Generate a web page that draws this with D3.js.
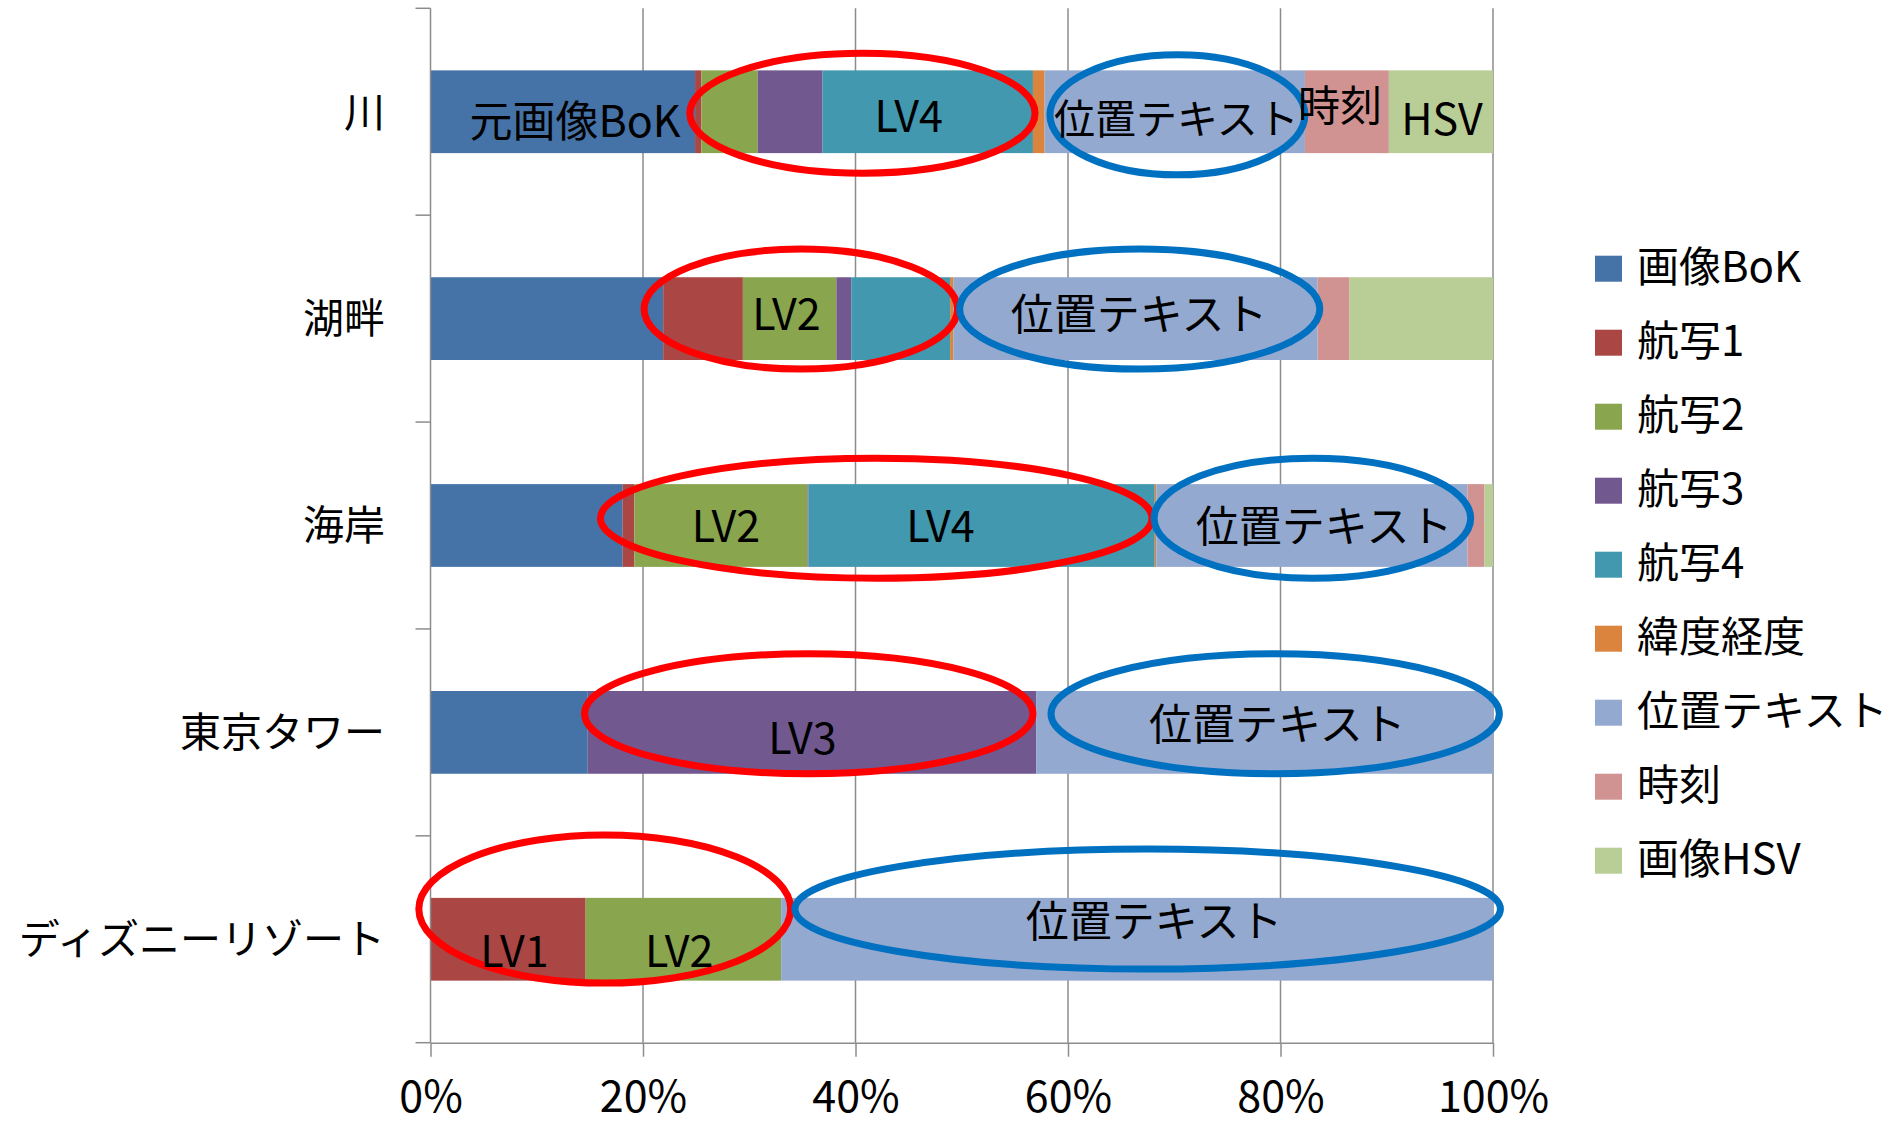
<!DOCTYPE html>
<html>
<head>
<meta charset="utf-8">
<script src="https://cdn.jsdelivr.net/npm/d3@7"></script>
<style>
  body { margin: 0; background: #fff; }
</style>
</head>
<body>
<script>
// categories, top to bottom
var categories = ['川', '湖畔', '海岸', '東京タワー', 'ディズニーリゾート']

// series names (legend order) and colours
var seriesNames = ['画像BoK', '航写1', '航写2', '航写3', '航写4', '緯度経度', '位置テキスト', '時刻', '画像HSV']
var seriesColors = ['#4572A7', '#AA4643', '#89A54E', '#71588F', '#4198AF', '#DB843D', '#93A9CF', '#D19392', '#B9CD96']

// share (%) of each series per category
var bok   = [24.9, 21.9, 18.1, 14.8, 0]
var kou1  = [0.6, 7.5, 1.1, 0, 14.6]
var kou2  = [5.3, 8.8, 16.3, 0, 18.4]
var kou3  = [6.1, 1.4, 0.1, 42.2, 0]
var kou4  = [19.8, 9.3, 32.6, 0, 0]
var latlon = [1.1, 0.3, 0.15, 0, 0]
var postext = [24.5, 34.3, 29.3, 43.0, 67.0]
var jikoku = [7.9, 3.0, 1.6, 0, 0]
var hsv   = [9.8, 13.5, 0.8, 0, 0]
var seriesValues = [bok, kou1, kou2, kou3, kou4, latlon, postext, jikoku, hsv]

var xTicks = [0, 0.2, 0.4, 0.6, 0.8, 1]

// annotations: in-bar labels [category, x share, y offset in bands, text, font px]
var barLabels = [
  ['川', 0.136, 0.047, '元画像BoK', 43],
  ['川', 0.450, 0.024, 'LV4', 43],
  ['川', 0.702, 0.035, '位置テキスト', 41],
  ['川', 0.856, -0.028, '時刻', 42],
  ['川', 0.952, 0.040, 'HSV', 43],
  ['湖畔', 0.335, -0.022, 'LV2', 43],
  ['湖畔', 0.667, -0.022, '位置テキスト', 43],
  ['海岸', 0.278, 0.006, 'LV2', 43],
  ['海岸', 0.480, 0.006, 'LV4', 43],
  ['海岸', 0.841, 0.006, '位置テキスト', 43],
  ['東京タワー', 0.350, 0.032, 'LV3', 43],
  ['東京タワー', 0.797, -0.036, '位置テキスト', 43],
  ['ディズニーリゾート', 0.079, 0.057, 'LV1', 43],
  ['ディズニーリゾート', 0.234, 0.057, 'LV2', 43],
  ['ディズニーリゾート', 0.681, -0.088, '位置テキスト', 43]
]

// ellipses: [category, x from, x to, y offset in bands, y radius in bands, colour]
var ellipses = [
  ['川', 0.244, 0.569, 0.007, 0.29, 'red'],
  ['川', 0.583, 0.823, 0.015, 0.29, 'blue'],
  ['湖畔', 0.201, 0.496, -0.046, 0.29, 'red'],
  ['湖畔', 0.498, 0.837, -0.046, 0.29, 'blue'],
  ['海岸', 0.160, 0.679, -0.035, 0.29, 'red'],
  ['海岸', 0.681, 0.979, -0.035, 0.29, 'blue'],
  ['東京タワー', 0.145, 0.567, -0.090, 0.29, 'red'],
  ['東京タワー', 0.584, 1.006, -0.090, 0.29, 'blue'],
  ['ディズニーリゾート', -0.011, 0.339, -0.146, 0.358, 'red'],
  ['ディズニーリゾート', 0.343, 1.007, -0.146, 0.29, 'blue']
]
var ellipseColors = { red: '#FF0000', blue: '#0070C0' }

var W = 1899
var H = 1123
var jpFont = '"Noto Sans CJK JP", "Noto Sans", sans-serif'
var narrowFont = '"Liberation Sans Narrow", "Noto Sans CJK JP", sans-serif'

var svg = d3.select('body').append('svg').attr('width', W).attr('height', H)

var x = d3.scaleLinear().domain([0, 1]).range([430.5, 1493])
var y = d3.scaleBand().domain(categories).range([8.3, 1042.7]).paddingInner(0.6).paddingOuter(0.3)
var step = y.step()
function yc (c) { return y(c) + y.bandwidth() / 2 }

// build table for the stack
var table = categories.map(function (c, i) {
  var row = { cat: c }
  seriesNames.forEach(function (s, j) { row[s] = seriesValues[j][i] })
  return row
})
var stacked = d3.stack().keys(seriesNames).offset(d3.stackOffsetExpand)(table)

// gridlines
svg.append('g').selectAll('line').data(xTicks.slice(1)).join('line')
  .attr('x1', function (d) { return x(d) }).attr('x2', function (d) { return x(d) })
  .attr('y1', y.range()[0]).attr('y2', y.range()[1])
  .attr('stroke', '#8c8c8c').attr('stroke-width', 1.5)

// bars
svg.append('g').selectAll('g').data(stacked).join('g')
  .attr('fill', function (d, i) { return seriesColors[i] })
  .selectAll('rect').data(function (d) { return d }).join('rect')
  .attr('x', function (d) { return x(d[0]) })
  .attr('width', function (d) { return Math.max(0, x(d[1]) - x(d[0])) })
  .attr('y', function (d) { return y(d.data.cat) })
  .attr('height', y.bandwidth())

// x axis
var xAxis = svg.append('g').attr('transform', 'translate(0,' + y.range()[1] + ')')
  .call(d3.axisBottom(x).tickValues(xTicks).tickFormat(d3.format('.0%')).tickSize(14).tickSizeOuter(0))
xAxis.select('.domain').attr('stroke', '#8c8c8c').attr('stroke-width', 1.5)
xAxis.selectAll('.tick line').attr('stroke', '#8c8c8c').attr('stroke-width', 1.5)
xAxis.selectAll('.tick text').attr('y', 54).attr('dy', '0.36em')
  .style('font-family', narrowFont).style('font-size', '43px').attr('fill', '#000')

// y axis line, ticks between categories, labels
var yAxis = svg.append('g')
yAxis.append('line').attr('x1', x(0)).attr('x2', x(0)).attr('y1', y.range()[0]).attr('y2', y.range()[1])
  .attr('stroke', '#8c8c8c').attr('stroke-width', 1.5)
var bounds = d3.range(categories.length + 1).map(function (i) { return y.range()[0] + i * step })
yAxis.selectAll('line.tk').data(bounds).join('line').attr('class', 'tk')
  .attr('x1', x(0) - 15).attr('x2', x(0)).attr('y1', function (d) { return d }).attr('y2', function (d) { return d })
  .attr('stroke', '#8c8c8c').attr('stroke-width', 1.5)
yAxis.selectAll('text').data(categories).join('text')
  .attr('x', 385).attr('y', function (d) { return yc(d) }).attr('dy', '0.36em')
  .attr('text-anchor', 'end').style('font-family', jpFont).style('font-size', '41px')
  .text(function (d) { return d })

// ellipses
svg.append('g').selectAll('ellipse').data(ellipses).join('ellipse')
  .attr('cx', function (d) { return (x(d[1]) + x(d[2])) / 2 })
  .attr('rx', function (d) { return (x(d[2]) - x(d[1])) / 2 })
  .attr('cy', function (d) { return yc(d[0]) + d[3] * step })
  .attr('ry', function (d) { return d[4] * step })
  .attr('fill', 'none').attr('stroke', function (d) { return ellipseColors[d[5]] }).attr('stroke-width', 7)

// labels inside bars
svg.append('g').selectAll('text').data(barLabels).join('text')
  .attr('x', function (d) { return x(d[1]) })
  .attr('y', function (d) { return yc(d[0]) + d[2] * step })
  .attr('dy', '0.36em').attr('text-anchor', 'middle')
  .style('font-family', narrowFont).style('font-size', function (d) { return d[4] + 'px' })
  .text(function (d) { return d[3] })

// legend
var legend = svg.append('g').attr('transform', 'translate(1595,268.7)')
var li = legend.selectAll('g').data(seriesNames).join('g')
  .attr('transform', function (d, i) { return 'translate(0,' + (i * 74) + ')' })
li.append('rect').attr('x', 0).attr('y', -13).attr('width', 27).attr('height', 26)
  .attr('fill', function (d, i) { return seriesColors[i] })
li.append('text').attr('x', 42).attr('y', -2).attr('dy', '0.36em')
  .style('font-family', jpFont).style('font-size', '42px')
  .text(function (d) { return d })
</script>
</body>
</html>
